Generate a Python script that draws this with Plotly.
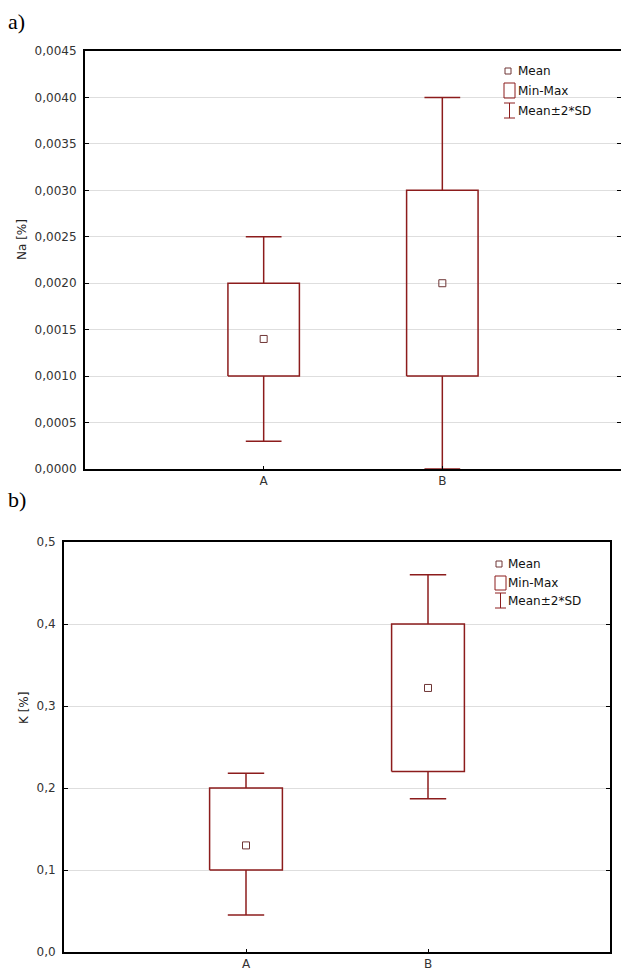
import plotly.graph_objects as go

W, H = 621, 974

categories = ["A", "B"]

# Panel a: Na [%]
na_min = [0.0010, 0.0010]
na_max = [0.0020, 0.0030]
na_mean = [0.0014, 0.0020]
na_lo = [0.0003, 0.0000]
na_hi = [0.0025, 0.0040]

# Panel b: K [%]
k_min = [0.100, 0.220]
k_max = [0.200, 0.400]
k_mean = [0.130, 0.322]
k_lo = [0.045, 0.187]
k_hi = [0.218, 0.460]

BOX_COL = "#8c1c1c"
MEAN_COL = "#6e3535"
FONT = "DejaVu Sans"


def px_x(p):
    return p / W


def px_y(p):
    return 1 - p / H


def panel_traces(mins, maxs, means, los, his, xa, ya):
    pos = [i + 1 for i in range(len(categories))]
    bx, by, wx, wy = [], [], [], []
    for p, mn, mx, lo, hi in zip(pos, mins, maxs, los, his):
        bx += [p - 0.2, p + 0.2, p + 0.2, p - 0.2, p - 0.2, None]
        by += [mn, mn, mx, mx, mn, None]
        wx += [p, p, None, p - 0.1, p + 0.1, None, p, p, None, p - 0.1, p + 0.1, None]
        wy += [mx, hi, None, hi, hi, None, mn, lo, None, lo, lo, None]
    return [
        go.Scatter(x=bx, y=by, mode="lines", line=dict(color=BOX_COL, width=1.5),
                   xaxis=xa, yaxis=ya, hoverinfo="skip", cliponaxis=False),
        go.Scatter(x=wx, y=wy, mode="lines", line=dict(color=BOX_COL, width=1.5),
                   xaxis=xa, yaxis=ya, hoverinfo="skip", cliponaxis=False),
        go.Scatter(x=pos, y=means, mode="markers",
                   marker=dict(symbol="square-open", size=7, color=MEAN_COL,
                               line=dict(width=1, color=MEAN_COL)),
                   xaxis=xa, yaxis=ya, cliponaxis=False),
    ]


fig = go.Figure()
for t in panel_traces(na_min, na_max, na_mean, na_lo, na_hi, "x", "y"):
    fig.add_trace(t)
for t in panel_traces(k_min, k_max, k_mean, k_lo, k_hi, "x2", "y2"):
    fig.add_trace(t)

tickfont = dict(family=FONT, size=12, color="#333333")

xcommon = dict(range=[0, 3], tickvals=[1, 2], ticktext=categories, ticks="inside",
               ticklen=3, tickcolor="black", showline=True, linecolor="black",
               linewidth=2, mirror=True, showgrid=False, zeroline=False,
               tickfont=tickfont, automargin=False, fixedrange=True)
ycommon = dict(ticks="inside", ticklen=4, tickcolor="black", showline=True,
               linecolor="black", linewidth=2, mirror="ticks", showgrid=True,
               gridcolor="#dedede", gridwidth=1, zeroline=False,
               tickfont=tickfont, automargin=False, fixedrange=True, ticklabelstandoff=4)

fig.update_layout(
    width=W, height=H, margin=dict(l=0, r=0, t=0, b=0),
    template="none", paper_bgcolor="white", plot_bgcolor="white",
    showlegend=False, separators=", ",
    xaxis=dict(domain=[px_x(85), 1.0], anchor="y", **xcommon),
    yaxis=dict(domain=[px_y(469), px_y(51)], anchor="x", range=[0, 0.0045],
               dtick=0.0005, tick0=0, tickformat=".4f", **ycommon),
    xaxis2=dict(domain=[px_x(64), px_x(610)], anchor="y2", **xcommon),
    yaxis2=dict(domain=[px_y(952), px_y(542)], anchor="x2", range=[0, 0.5],
                dtick=0.1, tick0=0, tickformat=".1f", **ycommon),
)

annotations = [
    dict(text="a)", x=px_x(6), y=px_y(22), xanchor="left", yanchor="middle",
         font=dict(family="Liberation Serif", size=22, color="black")),
    dict(text="b)", x=px_x(6), y=px_y(500), xanchor="left", yanchor="middle",
         font=dict(family="Liberation Serif", size=22, color="black")),
    dict(text="Na [%]", x=px_x(22), y=px_y(240), textangle=-90, xanchor="center",
         yanchor="middle", font=dict(family=FONT, size=12, color="#222222")),
    dict(text="K [%]", x=px_x(24), y=px_y(708), textangle=-90, xanchor="center",
         yanchor="middle", font=dict(family=FONT, size=12, color="#222222")),
]

shapes = []


def legend(x0, ymean, ybox0, ybox1, ywh0, ywh1, xt):
    lc = dict(color=BOX_COL, width=1)
    shapes.append(dict(type="rect", xref="paper", yref="paper",
                       x0=px_x(x0 + 1), x1=px_x(x0 + 7), y0=px_y(ymean - 3), y1=px_y(ymean + 3),
                       line=dict(color=MEAN_COL, width=1)))
    shapes.append(dict(type="rect", xref="paper", yref="paper",
                       x0=px_x(x0), x1=px_x(x0 + 11), y0=px_y(ybox0), y1=px_y(ybox1), line=lc))
    xm = x0 + 5.5
    shapes.append(dict(type="line", xref="paper", yref="paper",
                       x0=px_x(xm), x1=px_x(xm), y0=px_y(ywh0), y1=px_y(ywh1), line=lc))
    for yy in (ywh0, ywh1):
        shapes.append(dict(type="line", xref="paper", yref="paper",
                           x0=px_x(x0), x1=px_x(x0 + 11), y0=px_y(yy), y1=px_y(yy), line=lc))
    lf = dict(family=FONT, size=12, color="#111111")
    for txt, yy in (("Mean", ymean), ("Min-Max", (ybox0 + ybox1) / 2),
                    ("Mean±2*SD", (ywh0 + ywh1) / 2)):
        annotations.append(dict(text=txt, x=px_x(xt), y=px_y(yy), xanchor="left",
                                yanchor="middle", showarrow=False, font=lf))


legend(504, 71, 83, 98, 103, 118, 516)
legend(495, 564, 576, 590, 593, 608, 506)

for a in annotations:
    a.setdefault("showarrow", False)
    a["xref"] = "paper"
    a["yref"] = "paper"

fig.update_layout(annotations=annotations, shapes=shapes)

fig.write_html("out.html")
